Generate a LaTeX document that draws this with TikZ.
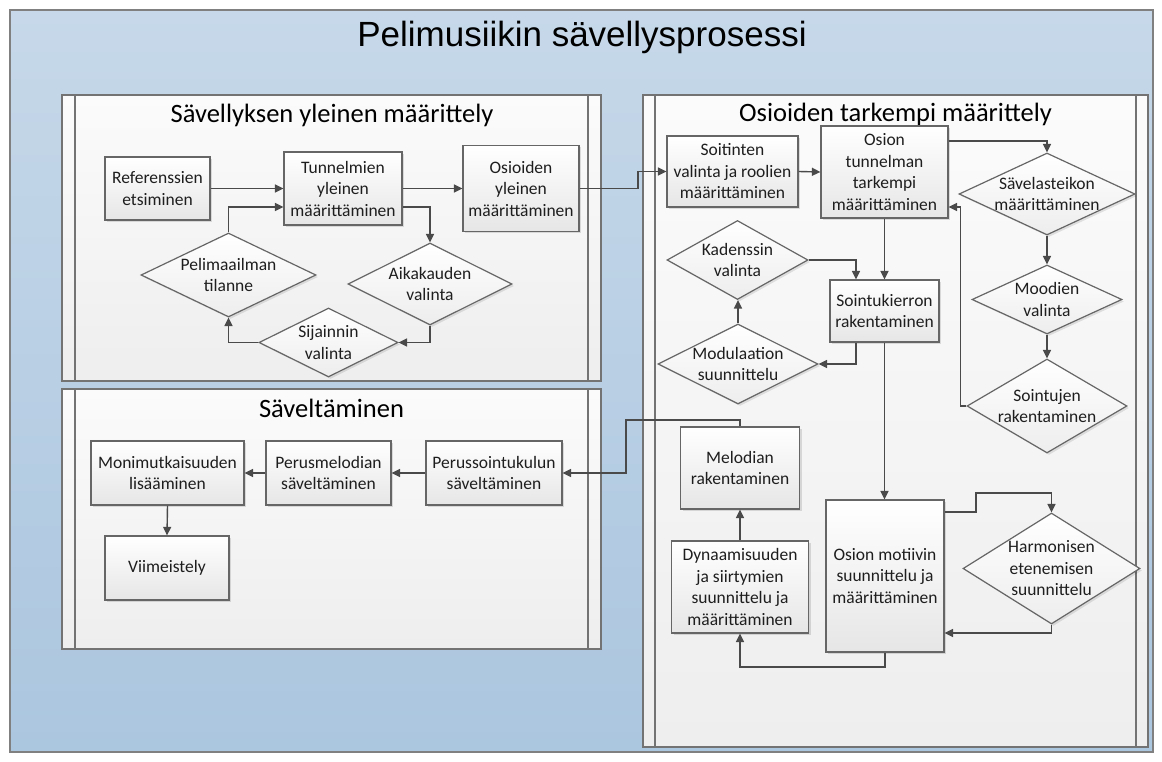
\documentclass[tikz,border=0pt]{standalone}
\usepackage{fontspec}
\setmainfont{Carlito}
\newfontfamily\titlefont{Liberation Sans}
\usetikzlibrary{arrows.meta,shapes.geometric,shadows,calc}

\definecolor{bgtop}{HTML}{C6D8E9}
\definecolor{bgbot}{HTML}{ABC6DF}
\definecolor{linec}{HTML}{4A4A4A}
\definecolor{boxline}{HTML}{666666}
\definecolor{poolline}{HTML}{737373}
\definecolor{txt}{HTML}{1E1E1E}
\definecolor{pooltop}{HTML}{FBFBFB}
\definecolor{poolbot}{HTML}{EEEEEE}
\definecolor{boxbot}{HTML}{E6E6E6}
\definecolor{diabot}{HTML}{EDEDED}

\newcommand{\zw}[1]{\makebox[0pt]{#1}}

\tikzset{
  pool/.style={draw=poolline, line width=1.4pt, top color=pooltop, bottom color=poolbot},
  lane/.style={draw=poolline, line width=1.2pt},
  pooltitle/.style={font=\fontsize{26.5}{30}\selectfont, text=black, inner sep=0pt},
  procbox/.style={rectangle, draw=boxline, line width=1.2pt, top color=white, bottom color=boxbot,
    drop shadow={shadow xshift=2pt, shadow yshift=-2pt, fill=black, opacity=0.12},
    align=center, font=\fontsize{17.5}{21.5}\selectfont, text=txt, inner sep=0pt},
  decis/.style={diamond, draw=boxline, line width=1.2pt, top color=white, bottom color=diabot,
    drop shadow={shadow xshift=2pt, shadow yshift=-2pt, fill=black, opacity=0.10},
    align=center, font=\fontsize{17.5}{21.5}\selectfont, text=txt, inner sep=0pt},
  conn/.style={draw=linec, line width=1.4pt},
  arr/.style={conn, -{Triangle[length=8.5pt,width=8pt]}},
}

\begin{document}
\begin{tikzpicture}[x=1pt,y=-1pt]
\useasboundingbox (0,0) rectangle (1162,762);
\fill[white] (0,0) rectangle (1162,762);
\draw[draw=gray, line width=1.2pt, top color=bgtop, bottom color=bgbot] (10,10) rectangle (1153,752);

\node[font=\titlefont\fontsize{35}{40}\selectfont, text=black, inner sep=0pt] (title) at (582,37) {Pelimusiikin sävellysprosessi};

% ---------- pools ----------
\draw[pool] (62,95) rectangle (601,381);
\draw[lane] (75,95) -- (75,381);
\draw[lane] (588,95) -- (588,381);
\node[pooltitle] (p1title) at (332,115) {Sävellyksen yleinen määrittely};

\draw[pool] (62,389) rectangle (601,649);
\draw[lane] (75,389) -- (75,649);
\draw[lane] (588,389) -- (588,649);
\node[pooltitle] (p2title) at (331.5,408) {Säveltäminen};

\draw[pool] (643,95) rectangle (1148,747);
\draw[lane] (655,95) -- (655,747);
\draw[lane] (1136,95) -- (1136,747);
\node[pooltitle] (p3title) at (895.5,114) {Osioiden tarkempi määrittely};

% ---------- pool 1 ----------
\node[procbox, minimum width=105pt, minimum height=63pt] (ref) at (157.5,188.5) {Referenssien\\etsiminen};
\node[procbox, minimum width=118pt, minimum height=73pt] (tun) at (343,188.5) {Tunnelmien\\yleinen\\määrittäminen};
\node[procbox, minimum width=116pt, minimum height=86pt] (osy) at (521,188.5) {Osioiden\\yleinen\\määrittäminen};
\node[decis, minimum width=175pt, minimum height=84pt] (pel) at (228.5,275) {\zw{Pelimaailman}\\\zw{tilanne}};
\node[decis, minimum width=164pt, minimum height=82pt] (aik) at (430,284) {\zw{Aikakauden}\\\zw{valinta}};
\node[decis, minimum width=139pt, minimum height=69pt] (sij) at (328.5,342.5) {\zw{Sijainnin}\\\zw{valinta}};

% ---------- pool 2 ----------
\node[procbox, minimum width=153pt, minimum height=64pt] (mon) at (167.5,473) {Monimutkaisuuden\\lisääminen};
\node[procbox, minimum width=125pt, minimum height=64pt] (pme) at (328.5,473) {Perusmelodian\\säveltäminen};
\node[procbox, minimum width=136pt, minimum height=64pt] (pso) at (494,473) {Perussointukulun\\säveltäminen};
\node[procbox, minimum width=124pt, minimum height=64pt] (vii) at (167,568) {Viimeistely};

% ---------- pool 3 ----------
\node[procbox, minimum width=131pt, minimum height=71pt] (soi) at (732.5,171.5) {Soitinten\\valinta ja roolien\\määrittäminen};
\node[procbox, minimum width=127pt, minimum height=92pt] (ott) at (884.5,172) {Osion\\tunnelman\\tarkempi\\määrittäminen};
\node[decis, minimum width=176pt, minimum height=82pt] (sav) at (1047,194) {\zw{Sävelasteikon}\\\zw{määrittäminen}};
\node[decis, minimum width=150pt, minimum height=69pt] (moo) at (1047,299.5) {\zw{Moodien}\\\zw{valinta}};
\node[decis, minimum width=160pt, minimum height=94pt] (soj) at (1047,406) {\zw{Sointujen}\\\zw{rakentaminen}};
\node[decis, minimum width=141pt, minimum height=79pt] (kad) at (737.5,260) {\zw{Kadenssin}\\\zw{valinta}};
\node[procbox, minimum width=109pt, minimum height=62pt] (sok) at (884.5,311) {Sointukierron\\rakentaminen};
\node[decis, minimum width=160pt, minimum height=80pt] (mod) at (738,364) {\zw{Modulaation}\\\zw{suunnittelu}};
\node[procbox, minimum width=119pt, minimum height=82pt] (mel) at (740,468) {Melodian\\rakentaminen};
\node[procbox, minimum width=137pt, minimum height=92pt] (dyn) at (740,587) {Dynaamisuuden\\ja siirtymien\\suunnittelu ja\\määrittäminen};
\node[procbox, minimum width=118pt, minimum height=152pt] (mot) at (885,576) {Osion motiivin\\suunnittelu ja\\määrittäminen};
\node[decis, minimum width=177pt, minimum height=111pt] (har) at (1051.5,568.5) {\zw{Harmonisen}\\\zw{etenemisen}\\\zw{suunnittelu}};

% ---------- junction points ----------
\coordinate (j1) at (638,188.5);
\coordinate (j2) at (960.5,406);
\coordinate (j3) at (976,493);
\coordinate (j4) at (885,667);
\coordinate (j5) at (740,420);
\coordinate (j6) at (626,420);

% ---------- connectors pool 1 ----------
\draw[arr] (ref.east) -- (tun.west);
\draw[arr] (pel.north) |- ([yshift=-18.5pt]tun.west);
\draw[arr] ([yshift=-18.5pt]tun.east) -| (aik.north);
\draw[arr] (aik.south) |- (sij.east);
\draw[arr] (sij.west) -| (pel.south);
\draw[arr] (tun.east) -- (osy.west);
\draw[arr] (osy.east) -- (j1) |- (soi.west);

% ---------- connectors pool 3 ----------
\draw[arr] (soi.east) -- (ott.west);
\draw[arr] ([yshift=31pt]ott.east) -| (sav.north);
\draw[arr] (sav.south) -- (moo.north);
\draw[arr] (moo.south) -- (soj.north);
\draw[arr] (soj.west) -- (j2) |- ([yshift=-35pt]ott.east);
\draw[arr] (ott.south) -- (ott.south |- sok.north);
\draw[arr] (kad.east) -| ([xshift=-28.5pt]sok.north);
\draw[arr] ([xshift=-28.5pt]sok.south) |- (mod.east);
\draw[arr] (mod.north) -- (mod.north |- kad.south);
\draw[arr] (sok.south) -- (sok.south |- mot.north);
\draw[arr] ([yshift=64pt]mot.east) -| (j3) -| (har.north);
\draw[arr] (har.south) |- ([yshift=-57pt]mot.east);
\draw[arr] (mot.south) -- (j4) -| (dyn.south);
\draw[arr] (dyn.north) -- (mel.south);
\draw[arr] (mel.north) -- (j5) -- (j6) |- (pso.east);

% ---------- connectors pool 2 ----------
\draw[arr] (pso.west) -- (pme.east);
\draw[arr] (pme.west) -- (mon.east);
\draw[arr] (mon.south) -- (vii.north);
\end{tikzpicture}
\end{document}
